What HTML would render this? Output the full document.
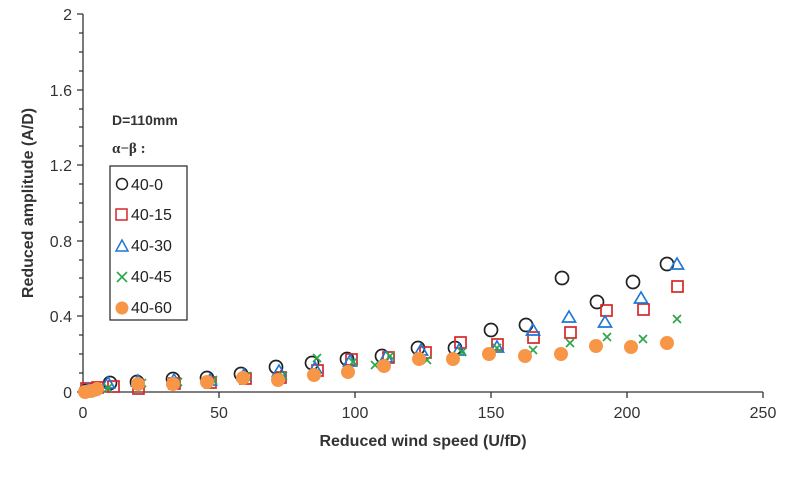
<!DOCTYPE html>
<html><head><meta charset="utf-8"><style>body{margin:0;background:#fff}svg{display:block}</style></head>
<body>
<svg width="800" height="484" xmlns="http://www.w3.org/2000/svg" font-family="Liberation Sans, sans-serif">
<rect width="800" height="484" fill="#fff"/>
<g stroke="#333" stroke-width="1.3">
<line x1="83" y1="14" x2="83" y2="392"/>
<line x1="83" y1="392" x2="763" y2="392"/>
<path d="M77 14H83M77 90H83M77 165H83M77 241H83M77 316H83M77 392H83"/>
<path d="M79 33H83M79 52H83M79 71H83M79 109H83M79 127H83M79 146H83M79 184H83M79 203H83M79 222H83M79 260H83M79 278H83M79 297H83M79 335H83M79 354H83M79 373H83"/>
<path d="M83 392V398M219 392V398M355 392V398M491 392V398M627 392V398M763 392V398"/>
</g>
<g font-size="16" fill="#333" text-anchor="end">
<text x="72" y="20">2</text><text x="72" y="96">1.6</text><text x="72" y="171">1.2</text><text x="72" y="247">0.8</text><text x="72" y="322">0.4</text><text x="72" y="398">0</text>
</g>
<g font-size="16" fill="#333" text-anchor="middle">
<text x="83" y="418">0</text><text x="219" y="418">50</text><text x="355" y="418">100</text><text x="491" y="418">150</text><text x="627" y="418">200</text><text x="763" y="418">250</text>
</g>
<text x="423" y="446" font-size="16" font-weight="bold" fill="#333" text-anchor="middle">Reduced wind speed (U/fD)</text>
<text transform="translate(33,203) rotate(-90)" font-size="16" font-weight="bold" fill="#333" text-anchor="middle">Reduced amplitude (A/D)</text>
<text x="112" y="125" font-size="14" font-weight="bold" fill="#333">D=110mm</text>
<text x="112" y="153" font-size="15" font-weight="bold" fill="#333" font-family="Liberation Serif, serif">α−β :</text>
<rect x="110" y="166" width="77" height="154" fill="#fff" stroke="#222" stroke-width="1.2"/>
<g font-size="16" fill="#222">
<text x="131" y="190">40-0</text><text x="131" y="220">40-15</text><text x="131" y="251">40-30</text><text x="131" y="282">40-45</text><text x="131" y="313">40-60</text>
</g>
<circle cx="122" cy="184" r="5.5" fill="none" stroke="#222" stroke-width="1.5"/>
<rect x="116" y="209" width="11" height="11" fill="none" stroke="#d62728" stroke-width="1.5"/>
<path d="M122 240 L128 251 L116 251Z" fill="none" stroke="#1f77d4" stroke-width="1.5"/>
<path d="M117 272 L127 282 M127 272 L117 282" stroke="#2ca84a" stroke-width="1.6"/>
<circle cx="122" cy="308" r="6.5" fill="#f79646"/>
<g fill="none" stroke="#222" stroke-width="1.7">
<circle cx="86" cy="391" r="6.5"/><circle cx="95" cy="389" r="6.5"/><circle cx="110" cy="383" r="6.5"/><circle cx="137" cy="382" r="6.5"/><circle cx="173" cy="379" r="6.5"/><circle cx="207" cy="378" r="6.5"/><circle cx="241" cy="374" r="6.5"/><circle cx="276" cy="367" r="6.5"/><circle cx="312" cy="363" r="6.5"/><circle cx="347" cy="359" r="6.5"/><circle cx="382" cy="356" r="6.5"/><circle cx="418" cy="348" r="6.5"/><circle cx="455" cy="348" r="6.5"/><circle cx="491" cy="330" r="6.5"/><circle cx="526" cy="325" r="6.5"/><circle cx="562" cy="278" r="6.5"/><circle cx="597" cy="302" r="6.5"/><circle cx="633" cy="282" r="6.5"/><circle cx="667" cy="264" r="6.5"/>
</g>
<g fill="none" stroke="#d62728" stroke-width="1.7">
<rect x="81" y="383" width="11" height="11"/><rect x="92" y="382" width="11" height="11"/><rect x="108" y="381" width="11" height="11"/><rect x="133" y="383" width="11" height="11"/><rect x="169" y="378" width="11" height="11"/><rect x="205" y="377" width="11" height="11"/><rect x="240" y="373" width="11" height="11"/><rect x="275" y="372" width="11" height="11"/><rect x="312" y="365" width="11" height="11"/><rect x="346" y="354" width="11" height="11"/><rect x="383" y="352" width="11" height="11"/><rect x="420" y="347" width="11" height="11"/><rect x="455" y="337" width="11" height="11"/><rect x="492" y="339" width="11" height="11"/><rect x="528" y="332" width="11" height="11"/><rect x="565" y="327" width="11" height="11"/><rect x="601" y="305" width="11" height="11"/><rect x="638" y="304" width="11" height="11"/><rect x="672" y="281" width="11" height="11"/>
</g>
<g fill="none" stroke="#1f77d4" stroke-width="1.7">
<path d="M88 383l6.5 11h-13z M108 377l6.5 11h-13z M138 375l6.5 11h-13z M174 374l6.5 11h-13z M210 374l6.5 11h-13z M244 369l6.5 11h-13z M279 365l6.5 11h-13z M315 362l6.5 11h-13z M350 355l6.5 11h-13z M386 351l6.5 11h-13z M421 344l6.5 11h-13z M459 344l6.5 11h-13z M497 341l6.5 11h-13z M533 324l6.5 11h-13z M569 311l6.5 11h-13z M605 316l6.5 11h-13z M641 292l6.5 11h-13z M677 258l6.5 11h-13z"/>
</g>
<g stroke="#2ca84a" stroke-width="1.7">
<path d="M83 386l8 8m0-8l-8 8 M104 384l8 8m0-8l-8 8 M138 379l8 8m0-8l-8 8 M174 378l8 8m0-8l-8 8 M209 376l8 8m0-8l-8 8 M243 372l8 8m0-8l-8 8 M279 372l8 8m0-8l-8 8 M313 354l8 8m0-8l-8 8 M349 358l8 8m0-8l-8 8 M371 361l8 8m0-8l-8 8 M386 352l8 8m0-8l-8 8 M423 356l8 8m0-8l-8 8 M458 348l8 8m0-8l-8 8 M493 344l8 8m0-8l-8 8 M529 346l8 8m0-8l-8 8 M566 339l8 8m0-8l-8 8 M603 333l8 8m0-8l-8 8 M639 335l8 8m0-8l-8 8 M673 315l8 8m0-8l-8 8"/>
</g>
<g fill="#f79646">
<circle cx="85" cy="392" r="7"/><circle cx="91" cy="391" r="7"/><circle cx="97" cy="389" r="7"/><circle cx="138" cy="384" r="7"/><circle cx="173" cy="384" r="7"/><circle cx="207" cy="382" r="7"/><circle cx="243" cy="378" r="7"/><circle cx="278" cy="380" r="7"/><circle cx="314" cy="375" r="7"/><circle cx="348" cy="372" r="7"/><circle cx="384" cy="366" r="7"/><circle cx="419" cy="359" r="7"/><circle cx="453" cy="359" r="7"/><circle cx="489" cy="354" r="7"/><circle cx="525" cy="356" r="7"/><circle cx="561" cy="354" r="7"/><circle cx="596" cy="346" r="7"/><circle cx="631" cy="347" r="7"/><circle cx="667" cy="343" r="7"/>
</g>
</svg>
</body></html>
